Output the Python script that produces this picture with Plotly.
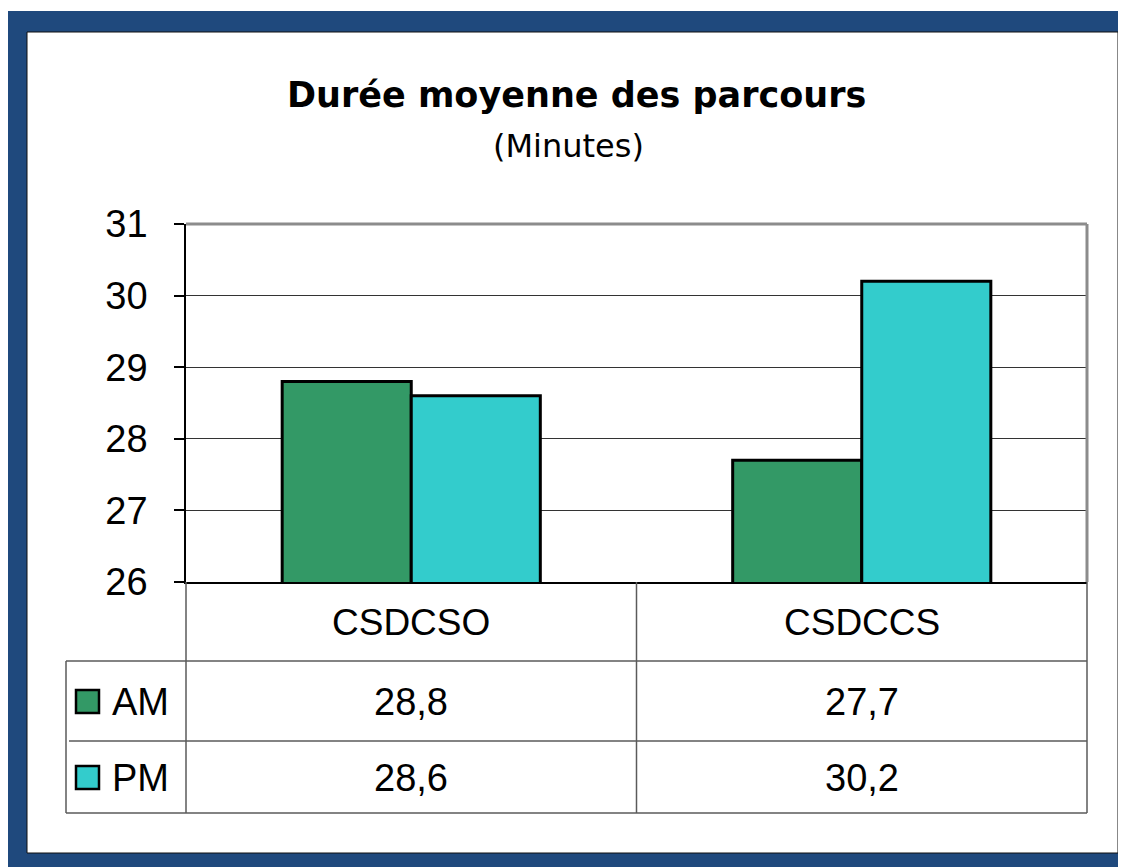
import plotly.graph_objects as go

# ---- data ----
categories = ["CSDCSO", "CSDCCS"]
series_names = ["AM", "PM"]
am_values = [28.8, 27.7]
pm_values = [28.6, 30.2]
y_ticks = [26, 27, 28, 29, 30, 31]
title_text = "Durée moyenne des parcours"
subtitle_text = "(Minutes)"

# ---- styles ----
colors = ["#339966", "#33CCCC"]
W, H = 1126, 867
OFF = 8  # page body margin
L, R, T, B = 186, 1087, 224, 582  # plot area in page pixels

def px(x):
    return (x - L) / (R - L)

def py(y):
    return (B - y) / (B - T)

FONT = "Liberation Sans, Arial, sans-serif"
fig = go.Figure()
for name, vals, col in zip(series_names, [am_values, pm_values], colors):
    fig.add_trace(go.Bar(
        x=categories, y=vals, name=name,
        marker=dict(color=col, line=dict(color="black", width=3)),
        showlegend=False,
    ))

shapes = []
# blue frame
shapes.append(dict(type="rect", xref="paper", yref="paper", x0=px(8), x1=px(W + 20), y0=py(11), y1=py(H + 20),
                   fillcolor="#1F497D", line=dict(width=0), layer="below"))
shapes.append(dict(type="rect", xref="paper", yref="paper", x0=px(27), x1=px(1118), y0=py(32), y1=py(853),
                   fillcolor="white", line=dict(color="#111111", width=1), layer="below"))
# top / right border of plot (gray)
shapes.append(dict(type="line", xref="paper", yref="paper", x0=0, x1=1, y0=1, y1=1,
                   line=dict(color="#8C8C8C", width=3)))
shapes.append(dict(type="line", xref="paper", yref="paper", x0=1, x1=1, y0=0, y1=1,
                   line=dict(color="#8C8C8C", width=3)))
# data table lines
tcol = "#5A5A5A"
for xv in [L, (L + R) / 2, R]:
    shapes.append(dict(type="line", xref="paper", yref="paper", x0=px(xv), x1=px(xv), y0=py(B), y1=py(813),
                       line=dict(color=tcol, width=1.5)))
shapes.append(dict(type="line", xref="paper", yref="paper", x0=px(66), x1=px(66), y0=py(661), y1=py(813),
                   line=dict(color=tcol, width=1.5)))
for yv, x0 in [(661, 66), (741, 69), (813, 66)]:
    shapes.append(dict(type="line", xref="paper", yref="paper", x0=px(x0), x1=px(R), y0=py(yv), y1=py(yv),
                       line=dict(color=tcol, width=1.5)))

annotations = []
row_y = [701, 777]
# legend keys + names
for name, col, yc in zip(series_names, colors, row_y):
    shapes.append(dict(type="rect", xref="paper", yref="paper", x0=px(76), x1=px(99), y0=py(yc - 11), y1=py(yc + 12),
                       fillcolor=col, line=dict(color="black", width=2.5)))
    annotations.append(dict(text=name, xref="paper", yref="paper", x=px(110), y=py(yc + 1),
                            xanchor="left", yanchor="middle", showarrow=False,
                            font=dict(family=FONT, size=38, color="black")))
# category labels
for c in categories:
    annotations.append(dict(text=c, xref="x", yref="paper", x=c, y=py(622),
                            xanchor="center", yanchor="middle", showarrow=False,
                            font=dict(family=FONT, size=37, color="black")))
# values
for vals, yc in zip([am_values, pm_values], row_y):
    for c, v in zip(categories, vals):
        annotations.append(dict(text=f"{v:.1f}".replace(".", ","), xref="x", yref="paper", x=c, y=py(yc + 1),
                                xanchor="center", yanchor="middle", showarrow=False,
                                font=dict(family=FONT, size=38, color="black")))
# title
annotations.append(dict(text=f"<b>{title_text}</b>", xref="paper", yref="paper", x=px(576), y=py(95),
                        xanchor="center", yanchor="middle", showarrow=False,
                        font=dict(family="DejaVu Sans, sans-serif", size=35, color="black")))
annotations.append(dict(text=subtitle_text, xref="paper", yref="paper", x=px(568), y=py(146),
                        xanchor="center", yanchor="middle", showarrow=False,
                        font=dict(family="DejaVu Sans, sans-serif", size=32, color="black")))

fig.update_layout(
    width=W - OFF, height=H - OFF,
    margin=dict(l=L - OFF, r=W - R, t=T - OFF, b=H - B, pad=0),
    paper_bgcolor="white", plot_bgcolor="rgba(0,0,0,0)",
    barmode="group", bargap=0.427, bargroupgap=0,
    shapes=shapes, annotations=annotations,
    showlegend=False,
)
fig.update_xaxes(range=[-0.5, 1.5], showticklabels=False, showgrid=False, zeroline=False,
                 showline=True, linecolor="black", linewidth=1.5, ticks="")
fig.update_yaxes(range=[26, 31], tickvals=y_ticks, ticktext=[str(t) for t in y_ticks],
                 showgrid=True, gridcolor="#333333", gridwidth=1, zeroline=False,
                 showline=True, linecolor="black", linewidth=1.5,
                 ticks="outside", ticklen=10, tickcolor="black", tickwidth=1.5,
                 ticklabelstandoff=19,
                 tickfont=dict(family=FONT, size=38, color="black"))

fig.write_html("out.html")
